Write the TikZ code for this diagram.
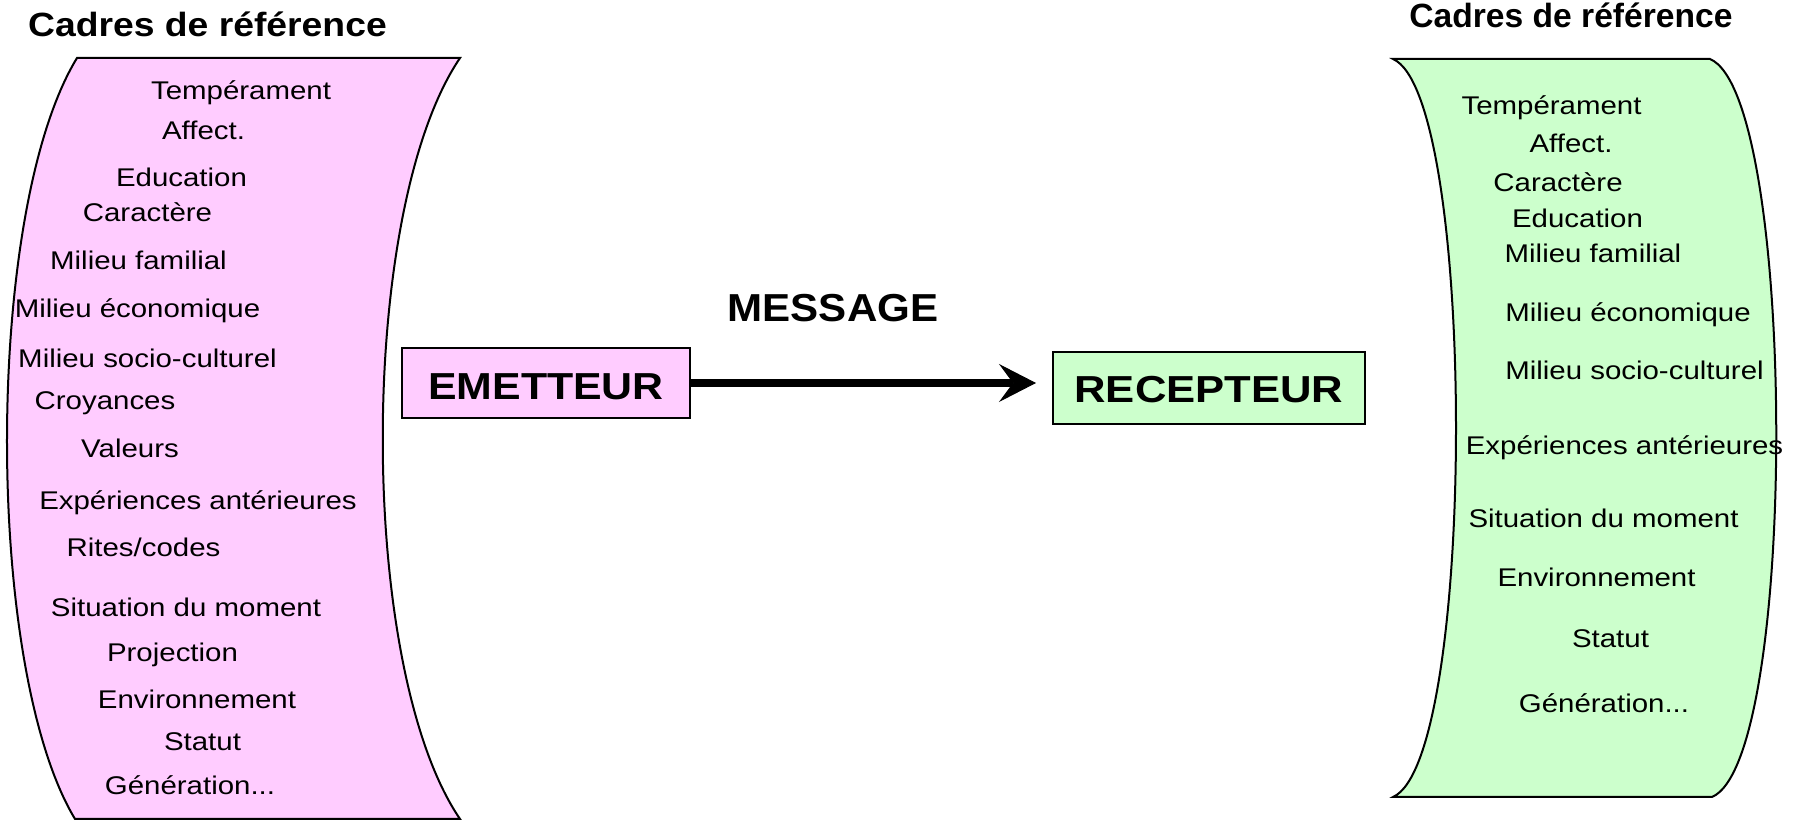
\documentclass[tikz,border=0pt]{standalone}
\usepackage{fontspec}
\setmainfont{Liberation Sans}
\usetikzlibrary{arrows.meta}
\definecolor{cadrepink}{RGB}{255,204,255}
\definecolor{cadregreen}{RGB}{204,255,204}
% horizontally stretched text
\newcommand{\hwide}[2]{\scalebox{#1}[1]{#2}}
\newcommand{\ctxt}[1]{\hwide{1.15}{#1}}
\begin{document}
\begin{tikzpicture}[x=0.5pt, y=-0.5pt,
  frame/.style={draw=black, line width=1pt},
  lbl/.style={anchor=base, inner sep=0pt, font=\fontsize{12.8pt}{15pt}\selectfont},
  heading/.style={anchor=base, inner sep=0pt, font=\bfseries\fontsize{16.8pt}{20pt}\selectfont},
  agent/.style={draw=black, line width=1pt, inner sep=0pt, text depth=0pt,
    font=\bfseries\fontsize{18.8pt}{22pt}\selectfont},
  flow/.style={line width=4pt,
    -{Stealth[length=18.5pt, width=19pt, inset=7pt, line width=0.5pt]}}]
\useasboundingbox (0,0) rectangle (1796,822);

% sender's frame of reference (bulging to the left)
\path[frame, fill=cadrepink]
  (77,58) -- (460,58) .. controls (357,210) and (357,668) .. (460,819)
  -- (75,819) .. controls (-16,668) and (-16,210) .. (77,58) -- cycle;

% receiver's frame of reference (bulging to the right)
\path[frame, fill=cadregreen]
  (1393,59) -- (1710,59) .. controls (1797,96) and (1799,760) .. (1712,797)
  -- (1393,797) .. controls (1477,760) and (1477,96) .. (1393,59) -- cycle;

% headings
\node[heading] (tl) at (207.5,37) {\hwide{1.11}{Cadres de référence}};
\node[heading] (tr) at (1571,28) {\hwide{1.0}{Cadres de référence}};

% sender's items
\node[lbl] (a1)  at (241,100)   {\ctxt{Tempérament}};
\node[lbl] (a2)  at (203.5,140) {\ctxt{Affect.}};
\node[lbl] (a3)  at (181.5,187) {\ctxt{Education}};
\node[lbl] (a4)  at (147.5,222) {\ctxt{Caractère}};
\node[lbl] (a5)  at (138.5,270) {\ctxt{Milieu familial}};
\node[lbl] (a6)  at (137.5,318) {\ctxt{Milieu économique}};
\node[lbl] (a7)  at (147.5,368) {\ctxt{Milieu socio-culturel}};
\node[lbl] (a8)  at (105,410)   {\ctxt{Croyances}};
\node[lbl] (a9)  at (130,458)   {\ctxt{Valeurs}};
\node[lbl] (a10) at (198,510)   {\ctxt{Expériences antérieures}};
\node[lbl] (a11) at (143.5,557) {\ctxt{Rites/codes}};
\node[lbl] (a12) at (186,617)   {\ctxt{Situation du moment}};
\node[lbl] (a13) at (172.5,662) {\ctxt{Projection}};
\node[lbl] (a14) at (197,709)   {\ctxt{Environnement}};
\node[lbl] (a15) at (202.5,751) {\ctxt{Statut}};
\node[lbl] (a16) at (190,795)   {\ctxt{Génération...}};

% receiver's items
\node[lbl] (b1)  at (1551.5,115) {\ctxt{Tempérament}};
\node[lbl] (b2)  at (1571,153)   {\ctxt{Affect.}};
\node[lbl] (b3)  at (1558,192)   {\ctxt{Caractère}};
\node[lbl] (b4)  at (1577.5,228) {\ctxt{Education}};
\node[lbl] (b5)  at (1593,263)   {\ctxt{Milieu familial}};
\node[lbl] (b6)  at (1628,322)   {\ctxt{Milieu économique}};
\node[lbl] (b7)  at (1634.5,380) {\ctxt{Milieu socio-culturel}};
\node[lbl] (b8)  at (1624.5,455) {\ctxt{Expériences antérieures}};
\node[lbl] (b9)  at (1603.5,528) {\ctxt{Situation du moment}};
\node[lbl] (b10) at (1596.5,587) {\ctxt{Environnement}};
\node[lbl] (b11) at (1610.5,648) {\ctxt{Statut}};
\node[lbl] (b12) at (1604,713)   {\ctxt{Génération...}};

% sender, receiver and the message
\node[agent, fill=cadrepink, minimum width=144pt, minimum height=35pt, text height=17pt]
  (em) at (546,383) {\hwide{1.14}{EMETTEUR}};
\node[agent, fill=cadregreen, minimum width=156pt, minimum height=36pt, text height=15pt]
  (rec) at (1209,388) {\hwide{1.16}{RECEPTEUR}};
\node[anchor=base, inner sep=0pt, font=\bfseries\fontsize{19.5pt}{23pt}\selectfont]
  (msg) at (833,322) {\hwide{1.08}{MESSAGE}};

\draw[flow, shorten >=8pt] (em.east) -- (em.east -| rec.west);
\end{tikzpicture}
\end{document}
